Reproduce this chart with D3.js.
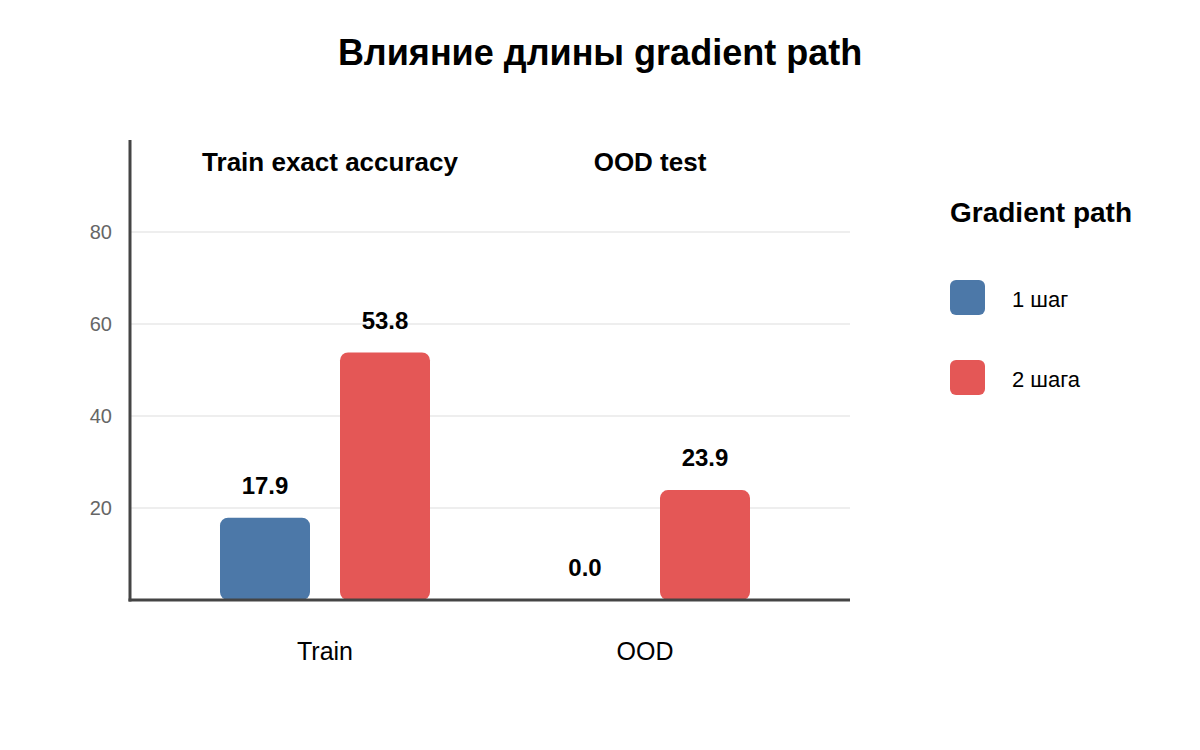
<!DOCTYPE html>
<html>
<head>
<meta charset="utf-8">
<script src="https://cdn.jsdelivr.net/npm/d3@7"></script>
<style>
  body { margin: 0; background: #fff; font-family: "Liberation Sans", Arial, sans-serif; }
</style>
</head>
<body>
<div id="chart"></div>
<script>
// data
var categories = ["Train", "OOD"];
var panelTitles = ["Train exact accuracy", "OOD test"];
var seriesNames = ["1 шаг", "2 шага"];
var seriesColors = ["#4C78A8", "#E45756"];
var values = [
    [17.9, 53.8],   // Train
    [0.0, 23.9]     // OOD
];
var yTicks = [20, 40, 60, 80];

var width = 1200, height = 750;

var svg = d3.select("#chart").append("svg")
    .attr("width", width)
    .attr("height", height);

// main title
svg.append("text")
    .attr("x", 600)
    .attr("y", 65)
    .attr("text-anchor", "middle")
    .style("font-size", "36px")
    .style("font-weight", "bold")
    .text("Влияние длины gradient path");

var plot = {left: 130, right: 850, top: 140, bottom: 600};

var x = d3.scaleBand()
    .domain(categories)
    .range([165, 805]);

var xInner = d3.scaleBand()
    .domain(seriesNames)
    .range([0, 210])
    .paddingInner(0.25);

var y = d3.scaleLinear()
    .domain([0, 100])
    .range([plot.bottom, plot.top]);

// gridlines
svg.append("g")
    .selectAll("line")
    .data(yTicks)
    .enter().append("line")
    .attr("x1", plot.left)
    .attr("x2", plot.right)
    .attr("y1", function(d){ return y(d); })
    .attr("y2", function(d){ return y(d); })
    .attr("stroke", "#e8e8e8")
    .attr("stroke-width", 1.5);

// y axis
var yAxis = d3.axisLeft(y)
    .tickValues(yTicks)
    .tickSize(0)
    .tickPadding(18);

var yg = svg.append("g")
    .attr("transform", "translate(" + plot.left + ",0)")
    .call(yAxis);
yg.select(".domain").remove();
yg.attr("font-size", null).attr("font-family", null);
yg.selectAll("text")
    .style("font-size", "20px")
    .attr("fill", "#666");

// bars
var groups = svg.selectAll(".group")
    .data(categories)
    .enter().append("g")
    .attr("class", "group")
    .attr("transform", function(d){
        return "translate(" + (x(d) + x.bandwidth() / 2 - 105) + ",0)";
    });

groups.selectAll("rect")
    .data(function(d, i){
        return values[i].map(function(v, j){ return {name: seriesNames[j], value: v, color: seriesColors[j]}; });
    })
    .enter().append("rect")
    .filter(function(d){ return d.value > 0; })
    .attr("x", function(d){ return xInner(d.name); })
    .attr("y", function(d){ return y(d.value); })
    .attr("width", xInner.bandwidth())
    .attr("height", function(d){ return y(0) - y(d.value); })
    .attr("rx", 8)
    .attr("fill", function(d){ return d.color; });

groups.selectAll(".value")
    .data(function(d, i){
        return values[i].map(function(v, j){ return {name: seriesNames[j], value: v}; });
    })
    .enter().append("text")
    .attr("class", "value")
    .attr("x", function(d){ return xInner(d.name) + xInner.bandwidth() / 2; })
    .attr("y", function(d){ return y(d.value) - 24; })
    .attr("text-anchor", "middle")
    .style("font-size", "24px")
    .style("font-weight", "bold")
    .text(function(d){ return d.value.toFixed(1); });

// panel titles
svg.selectAll(".panel-title")
    .data(categories)
    .enter().append("text")
    .attr("class", "panel-title")
    .attr("x", function(d){ return x(d) + x.bandwidth() / 2 + 5; })
    .attr("y", 171)
    .attr("text-anchor", "middle")
    .style("font-size", "26px")
    .style("font-weight", "bold")
    .text(function(d, i){ return panelTitles[i]; });

// axis lines
svg.append("line")
    .attr("x1", plot.left).attr("x2", plot.left)
    .attr("y1", plot.top).attr("y2", plot.bottom + 1.5)
    .attr("stroke", "#444").attr("stroke-width", 3);
svg.append("line")
    .attr("x1", plot.left - 1.5).attr("x2", plot.right)
    .attr("y1", plot.bottom).attr("y2", plot.bottom)
    .attr("stroke", "#444").attr("stroke-width", 3);

// x labels
svg.selectAll(".x-label")
    .data(categories)
    .enter().append("text")
    .attr("class", "x-label")
    .attr("x", function(d){ return x(d) + x.bandwidth() / 2; })
    .attr("y", 660)
    .attr("text-anchor", "middle")
    .style("font-size", "25px")
    .text(function(d){ return d; });

// legend
var legend = svg.append("g").attr("transform", "translate(950,0)");
legend.append("text")
    .attr("x", 0)
    .attr("y", 222)
    .style("font-size", "28px")
    .style("font-weight", "bold")
    .text("Gradient path");

var items = legend.selectAll(".item")
    .data(seriesNames)
    .enter().append("g")
    .attr("class", "item")
    .attr("transform", function(d, i){ return "translate(0," + (280 + i * 80) + ")"; });
items.append("rect")
    .attr("width", 35).attr("height", 35)
    .attr("rx", 6)
    .attr("fill", function(d, i){ return seriesColors[i]; });
items.append("text")
    .attr("x", 62)
    .attr("y", 27)
    .style("font-size", "22px")
    .text(function(d){ return d; });
</script>
</body>
</html>
